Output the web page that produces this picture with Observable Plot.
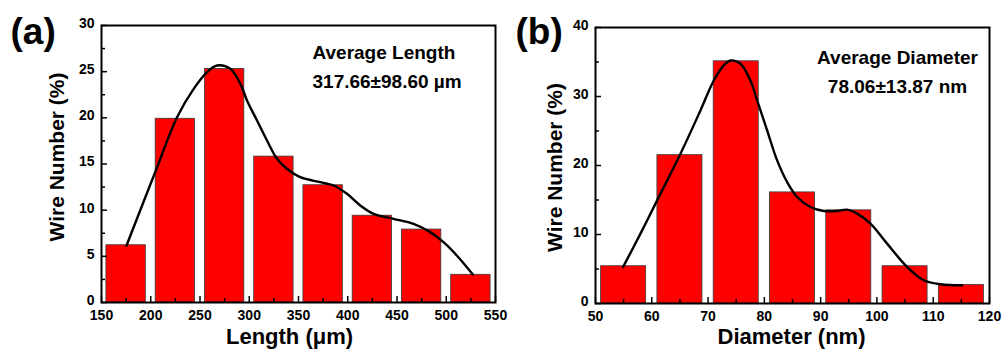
<!DOCTYPE html>
<html><head><meta charset="utf-8">
<script src="https://cdn.jsdelivr.net/npm/d3@7"></script>
<script src="https://cdn.jsdelivr.net/npm/@observablehq/plot@0.6"></script>
<style>
body{margin:0;background:#fff;}
#wrap{display:flex;width:1003px;height:349px;}
#wrap svg{flex:none;}
</style></head><body><div id="wrap"></div>
<script>
// ---- Panel (a): length distribution ----
const lengthBins = [175, 225, 275, 325, 375, 425, 475, 525];
const lengthPct  = [6.2, 19.9, 25.3, 15.8, 12.7, 9.4, 7.9, 3.0];
const lengthFitX = [175.4, 206.5, 226.7, 243.6, 257.2, 267.3, 280.8, 291.0, 297.7, 307.9, 318.0, 328.2, 338.3, 351.8, 372.1, 385.6, 399.2, 412.7, 426.2, 446.5, 466.8, 483.7, 497.2, 510.7, 527.0];
const lengthFitY = [6.17, 14.66, 20.07, 23.14, 24.95, 25.67, 25.31, 23.68, 21.88, 19.71, 17.55, 15.56, 14.48, 13.57, 13.03, 12.67, 11.77, 10.51, 9.60, 9.06, 8.52, 7.62, 6.53, 5.09, 3.03];
const lengthTicks = [150, 200, 250, 300, 350, 400, 450, 500, 550];
const lengthMinor = [175, 225, 275, 325, 375, 425, 475, 525];
const pctTicksA = [0, 5, 10, 15, 20, 25, 30];
const pctMinorA = [2.5, 7.5, 12.5, 17.5, 22.5, 27.5];

// ---- Panel (b): diameter distribution ----
const diameterBins = [55, 65, 75, 85, 95, 105, 115];
const diameterPct  = [5.4, 21.5, 35.1, 16.1, 13.5, 5.4, 2.7];
const diameterFitX = [54.91, 57.99, 60.95, 65.10, 68.65, 71.02, 72.79, 73.98, 75.75, 77.53, 78.72, 80.49, 82.27, 84.04, 85.82, 88.19, 90.56, 92.93, 94.70, 96.48, 98.85, 101.81, 105.36, 108.32, 111.28, 115.13];
const diameterFitY = [5.30, 10.13, 14.95, 21.71, 27.98, 32.32, 34.50, 35.22, 34.74, 32.32, 29.43, 25.09, 20.74, 17.61, 15.44, 13.99, 13.41, 13.41, 13.60, 13.02, 11.58, 8.68, 5.30, 3.37, 2.79, 2.65];
const diameterTicks = [50, 60, 70, 80, 90, 100, 110, 120];
const diameterMinor = [55, 65, 75, 85, 95, 105, 115];
const pctTicksB = [0, 10, 20, 30, 40];
const pctMinorB = [5, 15, 25, 35];

const FONT = "'Liberation Sans', Arial, Helvetica, sans-serif";

function panel(o) {
  const bars = o.bins.map((c, i) => ({c, v: o.values[i]}));
  const fit = o.fitX.map((x, i) => ({x, y: o.fitY[i]}));
  const half = o.binWidth * 0.4;
  return Plot.plot({
    width: o.width, height: 349,
    marginLeft: o.ml, marginRight: o.mr, marginTop: o.mt, marginBottom: o.mb,
    x: {domain: o.xDomain, axis: null},
    y: {domain: o.yDomain, axis: null},
    style: {fontFamily: FONT, background: "transparent", overflow: "visible", color: "#000"},
    marks: [
      Plot.rectY(bars, {x1: d => d.c - half, x2: d => d.c + half, y: "v", fill: "#ff0000", stroke: "#3a3a3a", strokeWidth: 0.8}),
      Plot.line(fit, {x: "x", y: "y", curve: "catmull-rom", stroke: "#000", strokeWidth: 2.4}),
      Plot.axisX({ticks: o.xTicks, tickSize: 0, tickPadding: 8, fontSize: 14, fontWeight: "bold", label: null}),
      Plot.axisX({ticks: o.xTicks, tickSize: -6, strokeWidth: 1.5, tickFormat: () => null, label: null}),
      Plot.axisX({ticks: o.xMinor, tickSize: -4, strokeWidth: 1.5, tickFormat: () => null, label: null}),
      Plot.axisY({ticks: o.yTicks, tickSize: 0, tickPadding: 7, dy: -2, fontSize: 14, fontWeight: "bold", label: null}),
      Plot.axisY({ticks: o.yTicks, tickSize: -6, strokeWidth: 1.5, tickFormat: () => null, label: null}),
      Plot.axisY({ticks: o.yMinor, tickSize: -4, strokeWidth: 1.5, tickFormat: () => null, label: null}),
      Plot.frame({stroke: "#000", strokeWidth: 2}),
      Plot.text([o.xLabel], {frameAnchor: "bottom", dx: o.xLabelDx, dy: o.xLabelDy, textAnchor: "middle", lineAnchor: "bottom", fontSize: 22, fontWeight: "bold", fill: "#000"}),
      Plot.text([o.yLabel], {frameAnchor: "left", rotate: -90, dx: o.yLabelDx, dy: o.yLabelDy, textAnchor: "middle", lineAnchor: "middle", fontSize: 21, fontWeight: "bold", fill: "#000"}),
      Plot.text([o.tag], {frameAnchor: "top-left", dx: o.tagDx, dy: o.tagDy, textAnchor: "start", lineAnchor: "bottom", fontSize: 37, fontWeight: "bold", fill: "#000"}),
      Plot.text([o.note], {frameAnchor: "top-left", dx: o.noteDx, dy: o.noteDy, textAnchor: o.noteAnchor, lineAnchor: "bottom", lineHeight: 1.52, fontSize: 19, fontWeight: "bold", fill: "#000"})
    ]
  });
}

const wrap = document.getElementById("wrap");
wrap.append(panel({
  width: 500, ml: 101, mr: 5, mt: 25, mb: 47,
  bins: lengthBins, values: lengthPct, binWidth: 50,
  fitX: lengthFitX, fitY: lengthFitY,
  xDomain: [150, 550], yDomain: [0, 30],
  xTicks: lengthTicks, xMinor: lengthMinor, yTicks: pctTicksA, yMinor: pctMinorA,
  xLabel: "Length (\u03bcm)", xLabelDx: -9, xLabelDy: 41,
  yLabel: "Wire Number (%)", yLabelDx: -44, yLabelDy: -7,
  tag: "(a)", tagDx: -91, tagDy: 18,
  note: "Average Length\n317.66\u00b198.60 \u00b5m", noteDx: 211, noteDy: 62, noteAnchor: "start"
}));
wrap.append(panel({
  width: 503, ml: 95, mr: 14, mt: 27, mb: 46,
  bins: diameterBins, values: diameterPct, binWidth: 10,
  fitX: diameterFitX, fitY: diameterFitY,
  xDomain: [50, 120], yDomain: [0, 40],
  xTicks: diameterTicks, xMinor: diameterMinor, yTicks: pctTicksB, yMinor: pctMinorB,
  xLabel: "Diameter (nm)", xLabelDx: -1, xLabelDy: 40,
  yLabel: "Wire Number (%)", yLabelDx: -40, yLabelDy: 2,
  tag: "(b)", tagDx: -80, tagDy: 16,
  note: "Average Diameter\n78.06\u00b113.87 nm", noteDx: 302, noteDy: 65, noteAnchor: "middle"
}));
</script></body></html>
